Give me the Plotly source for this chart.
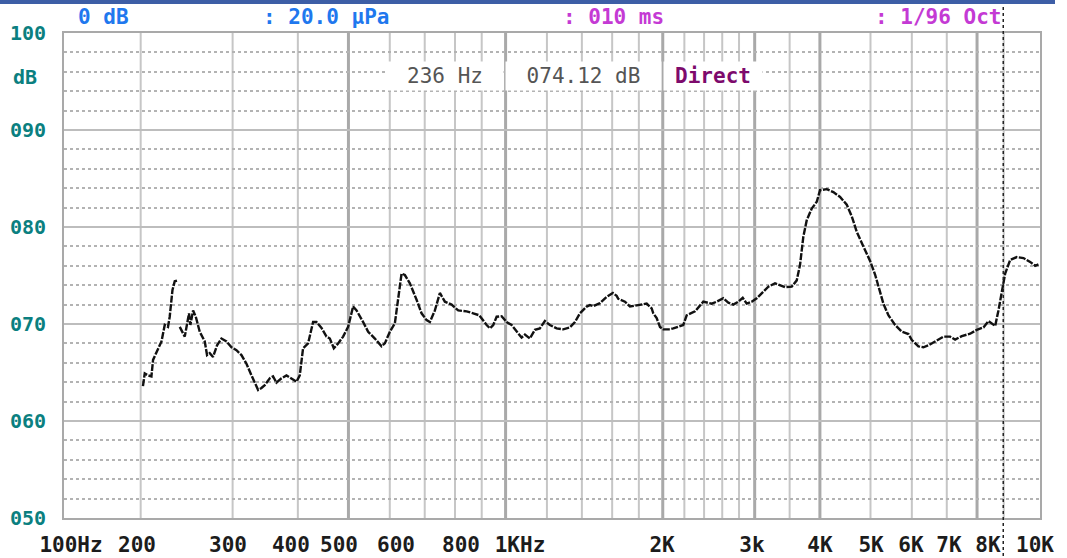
import numpy as np
import plotly.graph_objects as go

# ---------------- data ----------------
freq_hz = [
    202, 203.6, 206.6, 209.7, 211.2, 215.9, 219.2, 222.4, 225.6, 227.3, 230.1, 232.4, 235.9,
    None,
    237.6, 242.9, 247.5, 249.0, 252.0, 255.0, 259.5, 265.3, 268.0, 271.2, 275.2, 280.1,
    285.6, 292.0, 298.5, 305.1, 311.9, 318.9, 326.0, 335.7, 340.7, 345.7, 353.4, 358.6,
    364.0, 372.1, 380.4, 388.9, 397.6, 403.4, 409.3, 418.5, 427.8, 434.3, 444.0, 453.9,
    460.6, 468.8, 477.8, 488.4, 499.3, 510.4, 518.2, 533.5, 545.4, 561.8, 578.6, 587.1,
    600.2, 613.6, 622.6, 632.0, 641.3, 655.6, 675.3, 690.3, 705.7, 716.1, 732.1, 748.4,
    765.1, 788.1, 811.4, 842.0, 866.9, 890.2, 919.8, 933.3, 947.0, 961.3, 982.5, 1004.4,
    1026.8, 1049.7, 1073.1, 1088.9, 1113.1, 1137.9, 1163.3, 1189.2, 1215.8, 1252.3, 1289.3,
    1328.2, 1357.8, 1388.1, 1429.8, 1450.7, 1472.0, 1516.2, 1561.7, 1605.0, 1632.1, 1643.7,
    1668.5, 1693.0, 1730.7, 1782.6, 1863.1, 1904.7, 1918.1, 1947.1, 1975.7, 2004.7, 2064.8,
    2095.1, 2141.8, 2189.6, 2222.7, 2305.6, 2391.6, 2482.0, 2537.3, 2612.3, 2670.6, 2730.2,
    2791.1, 2845.8, 2896.5, 2961.1, 3027.2, 3094.7, 3186.1, 3281.8, 3355.0, 3429.9, 3532.8,
    3611.6, 3664.5, 3718.3, 3774.5, 3858.7, 3944.8, 4002.6, 4122.7, 4244.6, 4372.0, 4503.2,
    4603.7, 4706.4, 4845.5, 4991.0, 5102.3, 5216.1, 5292.7, 5410.8, 5573.2, 5740.4, 5910.1,
    5999.4, 6176.6, 6314.4, 6455.2, 6649.0, 6897.1, 7104.2, 7262.6, 7480.5, 7759.6, 7992.5,
    8229, 8412.6, 8665.1, 8792, 8925, 9056, 9258, 9535, 9817, 10111, 10337, 10488,
]
level_db = [
    63.6, 64.9, 64.7, 64.6, 66.3, 67.5, 68.2, 69.9, 69.7, 70.75, 73.5, 74.4, 74.5,
    None,
    69.7, 68.7, 71.1, 69.9, 71.4, 70.75, 69.2, 68.2, 66.8, 67.0, 66.6, 67.8,
    68.5, 68.2, 67.6, 67.3, 66.8, 65.9, 64.7, 63.2, 63.4, 63.7, 64.4, 64.6,
    63.95, 64.4, 64.7, 64.4, 64.05, 64.7, 67.5, 68.0, 70.2, 70.2, 69.6, 68.7,
    68.5, 67.5, 68.0, 68.7, 69.7, 71.8, 71.4, 70.2, 69.2, 68.5, 67.7, 68.0,
    69.2, 70.07, 72.8, 75.2, 75.05, 74.2, 72.5, 71.1, 70.4, 70.2, 71.4, 73.2,
    72.3, 72.0, 71.4, 71.3, 71.1, 70.9, 69.9, 69.55, 69.9, 70.75, 70.8, 70.2,
    69.9, 69.2, 68.6, 68.9, 68.5, 69.4, 69.55, 70.3, 69.9, 69.55, 69.45,
    69.65, 70.2, 71.1, 71.8, 71.95, 71.85, 72.15, 72.8, 73.2, 72.9, 72.6,
    72.45, 72.3, 71.8, 71.95, 72.1, 71.6, 71.1, 70.6, 69.7, 69.45, 69.45,
    69.55, 69.7, 69.9, 70.9, 71.3, 72.3, 72.1, 72.3, 72.65, 72.2, 72.0,
    72.3, 72.7, 72.1, 72.3, 72.65, 73.2, 73.85, 74.2, 74.0, 73.8, 73.85,
    74.5, 76.1, 79.0, 80.7, 81.9, 82.6, 83.8, 83.9, 83.6, 83.1, 82.3,
    81.1, 79.5, 78.0, 76.5, 75.1, 73.4, 72.1, 70.9, 69.9, 69.2, 68.97,
    68.35, 67.7, 67.6, 67.8, 68.2, 68.7, 68.7, 68.4, 68.75, 69.0, 69.4,
    69.65, 70.3, 69.8, 71.4, 73.2, 75.2, 76.6, 76.9, 76.8, 76.4, 76.0, 76.15,
]

x_tick_vals = [147.1, 196.8, 294, 388, 479.7, 616.7, 821.3, 1065.6, 1993.6,
               2964.9, 4001.7, 5011.6, 5977.4, 7068.3, 8395, 10329]
x_tick_text = ["100Hz", "200", "300", "400", "500", "600", "800", "1KHz", "2K",
               "3k", "4K", "5K", "6K", "7K", "8K", "10K"]
grid_thin_hz = [200, 300, 400, 600, 700, 800, 900, 1200, 1400, 1600, 1800,
                2200, 2400, 2600, 2800, 3500, 5000, 6000, 7000, 9000]
grid_thick_hz = [500, 1000, 2000, 3000, 4000, 8000]
y_tick_vals = [50, 60, 70, 80, 90, 100]
y_tick_text = ["050", "060", "070", "080", "090", "100"]
x_range_hz = [142.6, 10560]
y_range_db = [50, 100]
cursor_hz = 8980

# ---------------- styling ----------------
W, H = 1067, 558
ML, MR, MT, MB = 64, 27, 33, 40
PW, PH = W - ML - MR, H - MT - MB
MONO = "DejaVu Sans Mono"


def px_x(p):
    return (p - ML) / PW


def px_y(p):
    return (H - MB - p) / PH


fig = go.Figure()
fig.add_trace(go.Scatter(
    x=freq_hz, y=level_db, mode="lines",
    line=dict(color="#111111", width=2.4, dash="7px,1.5px"),
    connectgaps=False, hoverinfo="skip", showlegend=False,
))

shapes = []
for f in grid_thin_hz:
    shapes.append(dict(type="line", xref="x", yref="paper", x0=f, x1=f, y0=0, y1=1,
                       line=dict(color="#c6c6c6", width=2), layer="below"))
for f in grid_thick_hz:
    shapes.append(dict(type="line", xref="x", yref="paper", x0=f, x1=f, y0=0, y1=1,
                       line=dict(color="#a9a9a9", width=3), layer="below"))
# top blue band
shapes.append(dict(type="rect", xref="paper", yref="paper", x0=px_x(0), x1=px_x(1055),
                   y0=px_y(4), y1=px_y(0), line=dict(width=0), fillcolor="#3d5ea6",
                   layer="above"))
# dotted cursor line
shapes.append(dict(type="line", xref="x", yref="paper", x0=cursor_hz, x1=cursor_hz,
                   y0=px_y(556), y1=px_y(5), line=dict(color="#222222", width=1.5, dash="dot"),
                   layer="above"))

annotations = []
hdr_blue = "#1f78ee"
hdr_mag = "#c43ad4"
for txt, cx, col in [("0 dB", 103, hdr_blue), (": 20.0 μPa", 326, hdr_blue),
                     (": 010 ms", 613, hdr_mag), (": 1/96 Oct", 938, hdr_mag)]:
    annotations.append(dict(text=txt, xref="paper", yref="paper", x=px_x(cx), y=px_y(17),
                            xanchor="center", yanchor="middle", showarrow=False,
                            font=dict(family=MONO, size=21, color=col, weight="bold")))
annotations.append(dict(text="dB", xref="paper", yref="paper", x=px_x(25), y=px_y(77),
                        xanchor="center", yanchor="middle", showarrow=False,
                        font=dict(family=MONO, size=20, color="#0b7f80", weight="bold")))
# marker readout boxes
for txt, x0, x1, col, wt in [("236 Hz", 387, 503, "#555555", "normal"),
                             ("074.12 dB", 506, 661, "#555555", "normal"),
                             ("Direct", 664, 762, "#7d0a6c", "bold")]:
    annotations.append(dict(text=txt, xref="paper", yref="paper", x=px_x((x0 + x1) / 2),
                            y=px_y(76), xanchor="center", yanchor="middle", showarrow=False,
                            width=x1 - x0, height=28, bgcolor="white", borderpad=0,
                            font=dict(family=MONO, size=21, color=col, weight=wt)))

fig.update_layout(
    width=W, height=H, autosize=False,
    margin=dict(l=ML, r=MR, t=MT, b=MB, pad=0, autoexpand=False),
    paper_bgcolor="white", plot_bgcolor="white",
    shapes=shapes, annotations=annotations, showlegend=False,
    xaxis=dict(type="log", range=[np.log10(x_range_hz[0]), np.log10(x_range_hz[1])],
               automargin=False,
               showgrid=False, zeroline=False, showline=True, mirror=True,
               linecolor="#a9a9a9", linewidth=2,
               tickmode="array", tickvals=x_tick_vals, ticktext=x_tick_text, ticks="",
               ticklabelstandoff=7,
               tickfont=dict(family=MONO, size=21, color="#1c1c1c", weight="bold")),
    yaxis=dict(range=y_range_db, tickmode="array", tickvals=y_tick_vals, ticktext=y_tick_text,
               automargin=False,
               showgrid=True, gridcolor="#bdbdbd", gridwidth=2, zeroline=False,
               showline=True, mirror=True, linecolor="#a9a9a9", linewidth=2, ticks="",
               ticklabelstandoff=12,
               minor=dict(dtick=2, tick0=50, showgrid=True, gridcolor="#b3b3b3",
                          griddash="dot", gridwidth=1.5),
               tickfont=dict(family=MONO, size=20, color="#0b7f80", weight="bold")),
)

fig.write_html("out.html", config={"displayModeBar": False},
               post_script="document.body.style.margin='0';document.body.style.overflow='hidden';")
